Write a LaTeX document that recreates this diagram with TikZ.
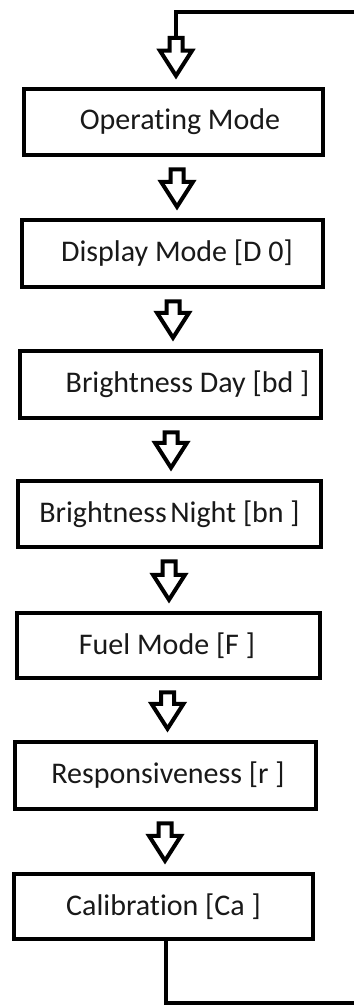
\documentclass[tikz,border=0pt]{standalone}
\usepackage{fontspec}
\setmainfont{Carlito}[RawFeature={-liga;-clig;-dlig}]
\usetikzlibrary{calc}
\newcommand\blockarrow[3]{%
\draw[blockarr] let \p2=(#1), \p3=(#2.north) in
 (#3-6.5pt,\y2) -- (#3+6.5pt,\y2) -- (#3+6.5pt,\y3+36pt) -- (#3+16pt,\y3+36pt) -- (#3,\y3+11pt)
 -- (#3-16pt,\y3+36pt) -- (#3-6.5pt,\y3+36pt) -- cycle;}
\begin{document}
\begin{tikzpicture}[x=1pt,y=-1pt,
 box/.style={draw=black, line width=4.5pt, fill=white, minimum width=301pt, minimum height=66pt,
   inner sep=0pt, font=\fontsize{30}{34}\selectfont, text=black!90},
 blockarr/.style={draw=black, line width=4pt, fill=white, line join=miter},
 link/.style={draw=black, line width=4pt, line join=miter}]
\useasboundingbox[fill=white] (0,0) rectangle (354,1006);
\node[box,minimum width=299pt] (b1) at (173.5,122) {\hspace*{13pt}Operating Mode};
\node[box,minimum width=301pt,minimum height=67pt] (b2) at (172.5,253.5) {\hspace*{9pt}Display Mode [D 0]};
\node[box,minimum width=301pt,minimum height=67pt] (b3) at (170.5,384.5) {\hspace*{34pt}Brightness Day [bd ]};
\node[box,minimum width=303pt] (b4) at (169.5,514) {Brightness\hspace{0.12em}Night [bn ]};
\node[box,minimum width=303pt,minimum height=65pt] (b5) at (168.5,645.5) {Fuel Mode [F ]\hspace*{3pt}};
\node[box,minimum width=301pt,minimum height=67pt] (b6) at (165.5,775.5) {\hspace*{5pt}Responsiveness [r ]};
\node[box,minimum width=299pt,minimum height=65pt] (b7) at (163.5,906.5) {Calibration [Ca ]};
\coordinate (tr) at (354,12);
\coordinate (tl) at (176,12);
\coordinate (in) at (176,38);
\coordinate (bl) at (166,1003);
\coordinate (br) at (354,1003);
\draw[link] (tr) -- (tl) -- (in);
\draw[link] ($(b7.south)+(2.5,0)$) -- (bl) -- (br);
\blockarrow{in}{b1}{176pt}
\blockarrow{$(b1.south)+(0,12)$}{b2}{177pt}
\blockarrow{$(b2.south)+(0,12)$}{b3}{173pt}
\blockarrow{$(b3.south)+(0,12)$}{b4}{171pt}
\blockarrow{$(b4.south)+(0,12)$}{b5}{169pt}
\blockarrow{$(b5.south)+(0,12)$}{b6}{167.5pt}
\blockarrow{$(b6.south)+(0,12)$}{b7}{165pt}
\end{tikzpicture}
\end{document}
